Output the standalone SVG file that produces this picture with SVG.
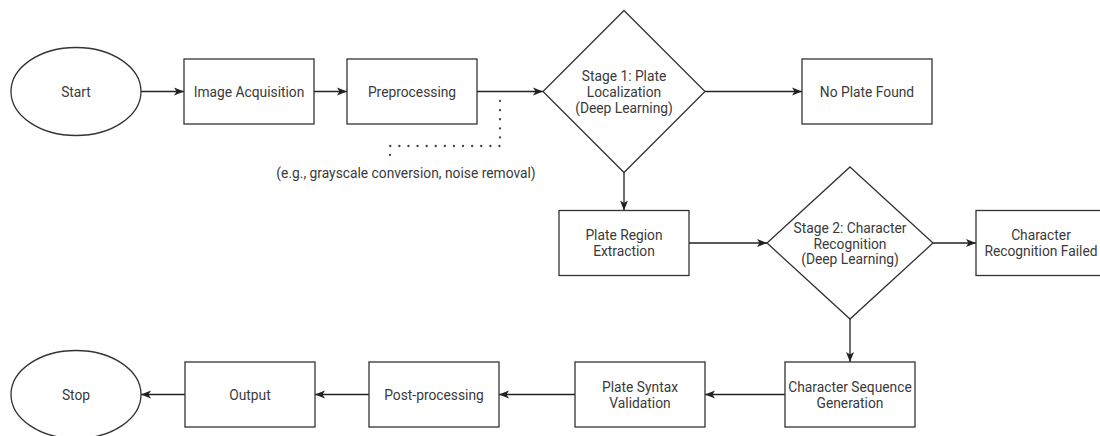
<svg xmlns="http://www.w3.org/2000/svg" width="1100" height="436" viewBox="0 0 1100 436">
<style>
.shape{fill:#fff;stroke:#333;stroke-width:1.3}
.lbl{font-family:Roboto,"Liberation Sans",sans-serif;font-size:13.8px;fill:#3a3a3a;text-anchor:middle;dominant-baseline:central}
.edge{fill:none;stroke:#222;stroke-width:1.3}
.dot{fill:none;stroke:#444;stroke-width:2.3;stroke-dasharray:0.1 9;stroke-linecap:round}
</style>
<defs>
<marker id="arr" markerUnits="userSpaceOnUse" markerWidth="10" markerHeight="10" viewBox="0 0 10 10" refX="10" refY="5" orient="auto">
<path d="M0,1 L10,5 L0,9 L2.5,5 z" fill="#222"/>
</marker>
</defs>
<rect width="1100" height="436" fill="#fff"/>
<g id="connectors">
<path class="edge" d="M141,91.5 H184" marker-end="url(#arr)"/>
<path class="edge" d="M314,91.5 H347" marker-end="url(#arr)"/>
<path class="edge" d="M477,91.5 H543" marker-end="url(#arr)"/>
<path class="edge" d="M705,91.5 H802" marker-end="url(#arr)"/>
<path class="edge" d="M624,172.5 V210.5" marker-end="url(#arr)"/>
<path class="edge" d="M689,243 H767" marker-end="url(#arr)"/>
<path class="edge" d="M933,243 H976" marker-end="url(#arr)"/>
<path class="edge" d="M850,319 V362" marker-end="url(#arr)"/>
<path class="edge" d="M785,394.5 H705" marker-end="url(#arr)"/>
<path class="edge" d="M575,394.5 H499" marker-end="url(#arr)"/>
<path class="edge" d="M369,394.5 H315" marker-end="url(#arr)"/>
<path class="edge" d="M185,394.5 H141" marker-end="url(#arr)"/>
<path class="dot" d="M500,101 V146 H390 V157"/>
</g>
<g id="start"><ellipse class="shape" cx="76" cy="91.5" rx="65" ry="44"/><text class="lbl" x="76" y="91.5">Start</text></g>
<g id="image-acquisition"><rect class="shape" x="184" y="59" width="130" height="65"/><text class="lbl" x="249" y="91.5">Image Acquisition</text></g>
<g id="preprocessing"><rect class="shape" x="347" y="59" width="130" height="65"/><text class="lbl" x="412" y="91.5">Preprocessing</text></g>
<g id="note"><text class="lbl" x="406" y="173">(e.g., grayscale conversion, noise removal)</text></g>
<g id="stage1"><polygon class="shape" points="624,10.5 705,91.5 624,172.5 543,91.5"/><text class="lbl" x="624" y="76">Stage 1: Plate</text><text class="lbl" x="624" y="91.5">Localization</text><text class="lbl" x="624" y="107.5">(Deep Learning)</text></g>
<g id="no-plate"><rect class="shape" x="802" y="59" width="130" height="65"/><text class="lbl" x="867" y="91.5">No Plate Found</text></g>
<g id="plate-region"><rect class="shape" x="559" y="210.5" width="130" height="65"/><text class="lbl" x="624" y="235">Plate Region</text><text class="lbl" x="624" y="251">Extraction</text></g>
<g id="stage2"><polygon class="shape" points="850,167 933,243 850,319 767,243"/><text class="lbl" x="850" y="228">Stage 2: Character</text><text class="lbl" x="850" y="243.5">Recognition</text><text class="lbl" x="850" y="259">(Deep Learning)</text></g>
<g id="char-failed"><rect class="shape" x="976" y="210.5" width="130" height="65"/><text class="lbl" x="1041" y="235">Character</text><text class="lbl" x="1041" y="251">Recognition Failed</text></g>
<g id="char-seq"><rect class="shape" x="785" y="362" width="130" height="65"/><text class="lbl" x="850" y="387">Character Sequence</text><text class="lbl" x="850" y="403">Generation</text></g>
<g id="syntax"><rect class="shape" x="575" y="362" width="130" height="65"/><text class="lbl" x="640" y="387">Plate Syntax</text><text class="lbl" x="640" y="403">Validation</text></g>
<g id="post"><rect class="shape" x="369" y="362" width="130" height="65"/><text class="lbl" x="434" y="394.5">Post-processing</text></g>
<g id="output"><rect class="shape" x="185" y="362" width="130" height="65"/><text class="lbl" x="250" y="394.5">Output</text></g>
<g id="stop"><ellipse class="shape" cx="76" cy="394.5" rx="65" ry="44"/><text class="lbl" x="76" y="394.5">Stop</text></g>
</svg>
